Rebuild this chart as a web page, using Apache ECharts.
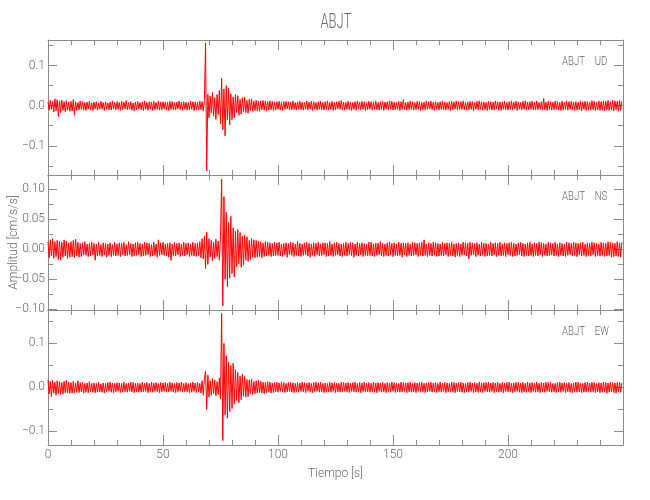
<!DOCTYPE html>
<html>
<head>
<meta charset="utf-8">
<script src="https://cdn.jsdelivr.net/npm/echarts@6/dist/echarts.min.js"></script>
<style>
html,body{margin:0;padding:0;background:#fff;}
#chart{width:650px;height:500px;}
</style>
</head>
<body>
<div id="chart"></div>
<script>
// ---------------- data ----------------
const station = 'ABJT';
const channels = ['UD', 'NS', 'EW'];
const sampleStep = 0.5;          // seconds between samples
const amplitudeUnit = 0.001;     // values below are in 0.001 cm/s/s
const timeTicks = [0, 50, 100, 150, 200];

const udValues = [
 9,-11,14,-9,12,-16,17,-13,15,-27,12,-18,14,-12,10,-15,13,-11,9,-14,
 11,-13,15,-24,10,-12,8,-10,12,-9,10,-11,8,-12,9,-8,11,-10,7,-12,
 9,-8,10,-11,7,-9,11,-8,8,-12,10,-9,7,-10,9,-11,12,-8,8,-10,
 10,-9,8,-12,11,-10,9,-8,13,-10,8,-9,10,-11,7,-13,9,-10,11,-8,
 8,-10,9,-12,12,-9,8,-11,10,-8,9,-12,11,-10,8,-9,12,-11,9,-10,
 10,-8,9,-11,8,-12,11,-9,10,-10,8,-11,9,-8,12,-10,9,-12,10,-9,
 9,-11,8,-10,11,-9,10,-12,9,-10,8,-11,12,-10,10,-13,14,156,-163,28,
 -30,24,-18,33,-26,20,-34,28,-22,38,-45,68,-60,42,-75,50,-36,44,-48,30,
 -35,22,-30,28,-18,25,-24,16,-21,20,-15,22,-17,13,-19,16,-12,17,-14,11,
 -12,14,-13,11,-14,12,-10,13,-11,12,-13,10,-11,12,-10,11,-12,9,-11,10,
 -9,11,-10,8,-12,10,-9,11,-8,10,-11,9,-10,12,-9,8,-11,10,-9,11,
 -10,9,-11,8,-9,12,-10,9,-8,11,-12,10,-9,8,-11,10,-9,11,-10,8,
 -11,10,-9,12,-10,8,-9,11,-12,9,-10,10,-8,11,-9,13,-10,9,-11,8,
 -9,11,-10,9,-12,8,-9,10,-11,12,-8,9,-10,11,-9,10,-12,8,-10,11,
 -8,10,-11,9,-9,12,-10,8,-11,10,-9,11,-12,9,-8,10,-10,12,-9,11,
 -11,9,-10,8,-9,11,-12,10,-9,15,-10,8,-11,9,-10,12,-9,10,-11,8,
 -10,11,-9,10,-12,8,-10,9,-11,12,-9,10,-8,11,-10,9,-12,10,-9,8,
 -11,10,-9,12,-10,9,-11,8,-9,10,-12,11,-10,9,-8,12,-11,10,-9,10,
 -9,12,-10,8,-11,9,-10,11,-9,10,-13,8,-9,11,-10,12,-9,10,-11,9,
 -10,8,-12,11,-9,10,-11,9,-10,12,-8,10,-11,9,-12,10,-9,11,-10,8,
 -11,10,-9,12,-10,9,-8,11,-12,10,-9,8,-10,11,-9,12,-11,9,-10,10,
 -9,11,-10,9,-11,12,-10,8,-9,10,-11,18,-10,9,-12,11,-9,10,-11,9,
 -10,12,-9,10,-11,8,-12,11,-10,9,-9,12,-11,10,-9,11,-10,9,-12,10,
 -11,9,-10,12,-13,10,-9,11,-12,10,-10,9,-11,13,-10,11,-12,9,-10,12,
 -12,10,-11,12,-13,11,-10,13,-12,10,-11,14,-13,12,-10,11,-14,13,-12,11
];

const nsValues = [
 12,-14,16,-11,18,-15,13,-12,15,-17,14,-18,12,-13,16,-11,14,-15,11,-13,
 13,-12,15,-14,17,-11,12,-13,10,-12,11,-9,13,-10,9,-12,10,-11,12,-9,
 10,-18,9,-11,12,-10,8,-12,11,-9,10,-13,9,-10,11,-12,8,-10,12,-11,
 9,-10,11,-12,10,-9,12,-11,8,-10,13,-9,10,-12,9,-11,11,-10,12,-9,
 10,-12,9,-11,12,-10,11,-9,10,-12,8,-11,12,-10,9,-13,16,-10,11,-9,
 12,-10,9,-11,10,-13,11,-18,9,-10,12,-11,10,-9,11,-12,9,-10,12,-11,
 10,-9,11,-12,9,-10,12,-11,10,-12,11,-10,13,-14,18,-16,22,-32,29,-25,
 18,-13,15,-19,12,-15,17,-12,14,-18,22,117,-94,88,-50,62,-62,45,-48,55,
 -40,36,-46,30,-29,33,-24,28,-30,22,-26,24,-18,21,-20,15,-17,18,-13,16,
 -14,15,-13,14,-12,13,-14,11,-12,13,-11,12,-10,11,-12,10,-11,12,-10,11,
 -10,12,-11,9,-12,10,-9,11,-13,10,-9,12,-10,11,-12,9,-10,13,-11,10,
 -12,9,-10,11,-9,12,-11,10,-13,9,-10,11,-12,10,-9,12,-11,9,-10,11,
 -9,11,-12,10,-11,13,-10,9,-12,11,-10,12,-9,10,-11,9,-12,10,-10,12,
 -11,10,-9,12,-10,11,-13,9,-10,12,-11,10,-9,11,-12,10,-10,9,-11,12,
 -10,12,-11,9,-12,10,-10,11,-9,13,-11,10,-12,9,-10,11,-11,12,-9,10,
 -12,11,-10,9,-11,12,-10,10,-13,11,-9,10,-12,11,-10,9,-11,12,-10,11,
 -9,10,-12,11,-10,12,-11,16,-10,9,-12,11,-10,10,-11,12,-9,11,-12,10,
 -11,9,-10,12,-11,10,-9,11,-12,10,-10,12,-11,9,-13,10,-10,11,-12,9,
 -10,12,-9,11,-11,10,-16,12,-10,11,-9,10,-12,11,-10,9,-11,12,-10,10,
 -12,10,-11,9,-10,12,-11,10,-9,11,-12,10,-10,12,-11,9,-10,11,-12,10,
 -9,11,-10,12,-12,10,-11,9,-10,11,-9,12,-11,10,-12,9,-10,11,-11,12,
 -10,9,-12,11,-10,10,-11,12,-9,11,-12,10,-10,9,-11,12,-10,11,-9,10,
 -11,12,-10,9,-12,11,-10,10,-11,9,-12,12,-10,11,-9,10,-11,12,-10,11,
 -12,10,-9,11,-11,12,-10,9,-12,11,-10,10,-11,12,-9,11,-12,10,-10,9,
 -11,12,-10,11,-12,10,-11,13,-10,12,-13,11,-12,10,-11,13,-12,11,-13,12
];

const ewValues = [
 17,-15,14,-21,16,-13,12,-18,15,-14,13,-16,11,-15,14,-12,16,-13,12,-14,
 11,-13,14,-12,10,-11,15,-12,11,-10,12,-13,9,-11,10,-12,13,-10,9,-11,
 10,-12,9,-11,12,-10,8,-11,10,-13,9,-10,11,-9,12,-11,10,-12,9,-10,
 11,-9,10,-12,9,-11,12,-10,9,-11,10,-9,12,-10,11,-12,9,-10,10,-11,
 9,-11,12,-10,10,-9,11,-12,9,-10,12,-11,10,-9,11,-10,9,-12,11,-10,
 10,-9,11,-11,9,-10,12,-9,10,-11,9,-12,11,-10,10,-9,12,-11,9,-10,
 11,-10,9,-12,10,-11,12,-9,10,-12,11,-10,9,-13,15,-18,20,37,-50,28,
 -22,15,-18,20,-14,17,-19,13,-16,21,-26,168,-121,100,-62,72,-70,58,-55,50,
 -48,55,-38,40,-30,34,-35,26,-28,30,-20,25,-22,18,-21,17,-14,19,-16,13,
 -14,15,-13,16,-12,14,-13,12,-14,11,-12,13,-11,12,-13,10,-12,11,-10,12,
 -11,10,-9,12,-10,11,-12,9,-10,11,-9,12,-11,10,-12,9,-10,11,-11,10,
 -9,12,-10,11,-12,10,-9,11,-10,9,-12,11,-10,12,-9,10,-11,12,-10,9,
 -12,10,-11,9,-10,12,-11,10,-9,11,-12,10,-10,9,-11,12,-10,11,-9,10,
 -10,11,-12,10,-9,11,-10,12,-11,9,-10,11,-12,10,-9,12,-11,10,-10,11,
 -11,9,-10,12,-11,10,-12,11,-9,10,-11,12,-10,9,-12,11,-10,10,-11,12,
 -9,11,-12,10,-10,9,-11,12,-10,11,-9,10,-12,11,-10,12,-11,9,-10,11,
 -12,10,-9,11,-11,12,-10,9,-12,10,-10,11,-9,12,-11,10,-10,11,-12,9,
 -10,12,-11,10,-9,11,-12,10,-10,9,-11,12,-10,11,-12,10,-9,11,-10,12,
 -11,10,-12,9,-10,11,-11,12,-9,10,-12,11,-10,9,-11,12,-10,10,-12,11,
 -9,11,-10,12,-11,10,-9,11,-12,10,-10,12,-11,9,-10,11,-12,10,-9,11,
 -10,12,-11,9,-12,10,-10,11,-9,12,-11,10,-12,11,-10,9,-11,12,-10,10,
 -12,11,-9,10,-11,12,-10,9,-12,11,-10,10,-11,12,-9,11,-10,12,-11,9,
 -10,9,-12,11,-10,12,-11,10,-9,11,-12,10,-10,11,-11,9,-12,10,-10,12,
 -11,12,-10,10,-12,9,-11,11,-10,12,-9,10,-11,12,-10,11,-12,9,-10,11,
 -12,10,-11,12,-10,11,-13,10,-11,12,-10,11,-12,10,-13,11,-10,12,-11,10
];

const yRanges = [[-0.173, 0.164], [-0.101, 0.124], [-0.131, 0.176]];
const yMajorTicks = [[-0.1, 0, 0.1], [-0.1, -0.05, 0, 0.05, 0.1], [-0.1, 0, 0.1]];
const yMinorTicks = [[-0.15, -0.05, 0.05, 0.15], [-0.075, -0.025, 0.025, 0.075], [-0.05, 0.05, 0.15]];
const yDecimals = [1, 2, 1];

// ---------------- layout / style ----------------
const FONT = "Roboto, 'Liberation Sans', sans-serif";
const TXT = '#666';
const AX = '#8a8a8a';
const LEFT = 48, WIDTH = 575, PANEL_H = 135;
const panelTops = [40, 175, 310];
const seriesValues = [udValues, nsValues, ewValues];

const grids = [], xAxes = [], yAxes = [], series = [], graphics = [];

function fmt(v, d) {
  const s = Math.abs(v).toFixed(d);
  return (v < -1e-9 ? '\u2212' : '') + s;
}

channels.forEach((ch, i) => {
  const top = panelTops[i];
  const gA = grids.length;
  const gridBase = { left: LEFT, top: top, width: WIDTH, height: PANEL_H, containLabel: false, outerBoundsMode: 'none' };
  grids.push(Object.assign({}, gridBase));
  grids.push(Object.assign({}, gridBase));
  const gB = gA + 1;
  const last = i === channels.length - 1;

  const xBase = {
    type: 'value', min: 0, max: 250, interval: 50,
    axisLine: { show: true, onZero: false, lineStyle: { color: AX, width: 1 } },
    axisTick: { show: true, inside: true, length: 10, lineStyle: { color: AX } },
    minorTick: { show: true, splitNumber: 5, length: 5, lineStyle: { color: AX } },
    splitLine: { show: false }
  };
  const xBottomIdx = xAxes.length;
  xAxes.push(Object.assign({}, xBase, {
    gridIndex: gA, position: 'bottom',
    axisLabel: { show: last, color: TXT, fontSize: 12, fontWeight: 300, fontFamily: FONT, margin: 4,
      customValues: timeTicks, formatter: v => String(v) },
    name: last ? 'Tiempo [s]' : '', nameLocation: 'middle', nameGap: 23, nameMoveOverlap: false,
    nameTextStyle: { color: TXT, fontSize: 12, fontWeight: 300, fontFamily: FONT }
  }));
  xAxes.push(Object.assign({}, xBase, { gridIndex: gA, position: 'top', axisLabel: { show: false } }));
  xAxes.push({ type: 'value', min: 0, max: 250, gridIndex: gB, show: false });

  const yBase = {
    type: 'value', min: yRanges[i][0], max: yRanges[i][1],
    splitLine: { show: false }
  };
  const yLeftIdx = yAxes.length;
  yAxes.push(Object.assign({}, yBase, {
    gridIndex: gA, position: 'left',
    axisLine: { show: true, onZero: false, lineStyle: { color: AX, width: 1 } },
    axisTick: { show: true, inside: true, length: 9, customValues: yMajorTicks[i], lineStyle: { color: AX } },
    axisLabel: { show: true, color: TXT, fontSize: 12, fontWeight: 300, fontFamily: FONT, margin: 3,
      customValues: yMajorTicks[i], formatter: v => fmt(v, yDecimals[i]) },
    name: i === 1 ? 'Amplitud [cm/s/s]' : '', nameLocation: 'middle', nameGap: 28, nameMoveOverlap: false,
    nameTextStyle: { color: TXT, fontSize: 12, fontWeight: 300, fontFamily: FONT }
  }));
  yAxes.push(Object.assign({}, yBase, {
    gridIndex: gA, position: 'right',
    axisLine: { show: true, onZero: false, lineStyle: { color: AX, width: 1 } },
    axisTick: { show: true, inside: true, length: 9, customValues: yMajorTicks[i], lineStyle: { color: AX } },
    axisLabel: { show: false }
  }));
  yAxes.push(Object.assign({}, yBase, {
    gridIndex: gB, position: 'left',
    axisLine: { show: false },
    axisTick: { show: true, inside: true, length: 5, customValues: yMinorTicks[i], lineStyle: { color: AX } },
    axisLabel: { show: false }
  }));
  yAxes.push(Object.assign({}, yBase, {
    gridIndex: gB, position: 'right',
    axisLine: { show: false },
    axisTick: { show: true, inside: true, length: 5, customValues: yMinorTicks[i], lineStyle: { color: AX } },
    axisLabel: { show: false }
  }));

  series.push({
    type: 'line', xAxisIndex: xBottomIdx, yAxisIndex: yLeftIdx,
    data: seriesValues[i].map((v, k) => [k * sampleStep, v * amplitudeUnit]),
    showSymbol: false, symbol: 'none', sampling: false, clip: true,
    lineStyle: { color: '#ff0000', width: 1 }, silent: true, z: 1
  });

  graphics.push({
    type: 'text', x: 562, y: top + 21.5, scaleX: 0.8, silent: true,
    style: { text: station + '\u2002\u2002' + ch, fill: TXT, font: '300 12px ' + FONT,
      textAlign: 'left', textVerticalAlign: 'middle' }
  });
});

graphics.push({
  type: 'text', x: 336, y: 23, scaleX: 0.62, silent: true,
  style: { text: station, fill: TXT, font: '300 21px ' + FONT,
    textAlign: 'center', textVerticalAlign: 'middle' }
});

const chart = echarts.init(document.getElementById('chart'));
chart.setOption({
  animation: false,
  backgroundColor: '#fff',
  grid: grids, xAxis: xAxes, yAxis: yAxes, series: series, graphic: graphics
});
</script>
</body>
</html>
